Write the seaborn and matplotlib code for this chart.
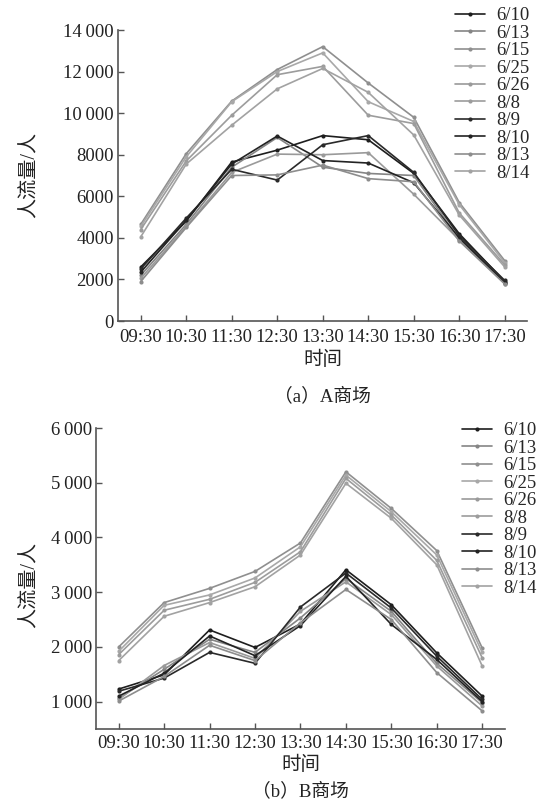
import pandas as pd
import matplotlib
matplotlib.use('Agg')
import matplotlib.pyplot as plt
import seaborn as sns

# time slots and dates
times = ['09:30', '10:30', '11:30', '12:30', '13:30', '14:30', '15:30', '16:30', '17:30']
dates = ['6/10', '6/13', '6/15', '6/25', '6/26', '8/8', '8/9', '8/10', '8/13', '8/14']

# A mall
a_610 = [2600, 4800, 7650, 8220, 8920, 8720, 7100, 4200, 1900]
a_613 = [2200, 4650, 7400, 8830, 7400, 7100, 7000, 3950, 1880]
a_615 = [4650, 8050, 10580, 12100, 13200, 11450, 9800, 5700, 2900]
a_625 = [4550, 7900, 10550, 12000, 12900, 10550, 9600, 5600, 2800]
a_626 = [2050, 4550, 7150, 8030, 8000, 8100, 6100, 3900, 1800]
a_808 = [4400, 7700, 9900, 11850, 12250, 9900, 9500, 5200, 2700]
a_809 = [2500, 4950, 7300, 6780, 8480, 8920, 7150, 4100, 1950]
a_810 = [2350, 4850, 7550, 8900, 7720, 7600, 6650, 4000, 1850]
a_813 = [1900, 4500, 7000, 7030, 7500, 6850, 6700, 3850, 1780]
a_814 = [4050, 7550, 9420, 11170, 12150, 11000, 8950, 5100, 2600]

# B mall
b_610 = [1230, 1490, 2310, 1990, 2420, 3410, 2770, 1890, 1100]
b_613 = [1060, 1590, 2140, 1900, 2530, 3250, 2650, 1700, 980]
b_615 = [2000, 2810, 3070, 3380, 3900, 5200, 4530, 3760, 1980]
b_625 = [1920, 2760, 2950, 3260, 3830, 5140, 4470, 3680, 1900]
b_626 = [1040, 1660, 2080, 1790, 2650, 3190, 2590, 1650, 920]
b_808 = [1860, 2670, 2870, 3180, 3740, 5080, 4410, 3580, 1800]
b_809 = [1190, 1430, 1900, 1700, 2730, 3350, 2710, 1830, 1040]
b_810 = [1100, 1520, 2200, 1840, 2390, 3290, 2410, 1770, 1000]
b_813 = [1010, 1460, 2030, 1750, 2440, 3050, 2500, 1530, 830]
b_814 = [1750, 2560, 2810, 3100, 3680, 4990, 4350, 3500, 1650]

a_ticks = [0, 2000, 4000, 6000, 8000, 10000, 12000, 14000]
a_ticklabels = ['0', '2000', '4000', '6000', '8000', '10\u2009000', '12\u2009000', '14\u2009000']
b_ticks = [1000, 2000, 3000, 4000, 5000, 6000]
b_ticklabels = ['1\u2009000', '2\u2009000', '3\u2009000', '4\u2009000', '5\u2009000', '6\u2009000']

colors = ['#1e1e1e', '#858585', '#8f8f8f', '#a8a8a8', '#9a9a9a',
          '#9c9c9c', '#2a2a2a', '#232323', '#8d8d8d', '#a2a2a2']
palette = dict(zip(dates, colors))

def long_form(series):
    rows = []
    for d, vals in zip(dates, series):
        for t, v in zip(times, vals):
            rows.append({'time': t, 'date': d, 'value': v})
    return pd.DataFrame(rows)

df_a = long_form([a_610, a_613, a_615, a_625, a_626, a_808, a_809, a_810, a_813, a_814])
df_b = long_form([b_610, b_613, b_615, b_625, b_626, b_808, b_809, b_810, b_813, b_814])

sns.set_style('ticks')
plt.rcParams['font.family'] = ['Liberation Serif', 'Noto Sans CJK SC', 'DejaVu Sans']
plt.rcParams['axes.edgecolor'] = '#555555'
plt.rcParams['xtick.color'] = '#555555'
plt.rcParams['ytick.color'] = '#555555'

fig = plt.figure(figsize=(5.46, 8.09), dpi=100)
ax1 = fig.add_axes([0.2161, 0.6032, 0.750, 0.3597])
ax2 = fig.add_axes([0.1758, 0.0989, 0.749, 0.372])

for ax, df, ticks, ticklabels, ylim, xpad in [(ax1, df_a, a_ticks, a_ticklabels, (0, 14000), 6),
                                             (ax2, df_b, b_ticks, b_ticklabels, (500, 6000), 4)]:
    sns.lineplot(data=df, x='time', y='value', hue='date', palette=palette,
                 marker='o', markersize=3, markeredgewidth=0, linewidth=1.2,
                 sort=False, ax=ax)
    ax.set_xlim(-0.5, 8.5)
    ax.set_ylim(*ylim)
    ax.set_yticks(ticks)
    ax.set_yticklabels(ticklabels, color='#222222')
    for lab in ax.get_xticklabels():
        lab.set_color('#222222')
    ax.tick_params(direction='in', length=4, width=1, labelsize=13.5, pad=3)
    ax.tick_params(axis='x', pad=xpad)
    ax.set_xlabel('时间', fontsize=14, labelpad=3, color='#222222')
    ax.set_ylabel('')
    sns.despine(ax=ax)
    for s in ['left', 'bottom']:
        ax.spines[s].set_linewidth(1.2)

# legends
for ax, anchor in [(ax1, (455 / 546, 1 - 7 / 809)), (ax2, (462 / 546, 1 - 422 / 809))]:
    handles, labels = ax.get_legend_handles_labels()
    ax.legend(handles, labels, loc='upper left', bbox_to_anchor=anchor,
              bbox_transform=fig.transFigure, frameon=False, fontsize=13.5,
              labelspacing=0.02, handlelength=1.6, handletextpad=0.6,
              borderaxespad=0, borderpad=0)

fig.text(30 / 546, 1 - 175 / 809, '人流量/人', rotation=90, ha='center', va='center',
         fontsize=14.5, color='#222222')
fig.text(30 / 546, 1 - 585 / 809, '人流量/人', rotation=90, ha='center', va='center',
         fontsize=14.5, color='#222222')
fig.text(322 / 546, 1 - 396 / 809, '（a）A商场', ha='center', va='center',
         fontsize=13.5, color='#222222')
fig.text(300 / 546, 1 - 791 / 809, '（b）B商场', ha='center', va='center',
         fontsize=13.5, color='#222222')

fig.savefig('out.png', dpi=100)
